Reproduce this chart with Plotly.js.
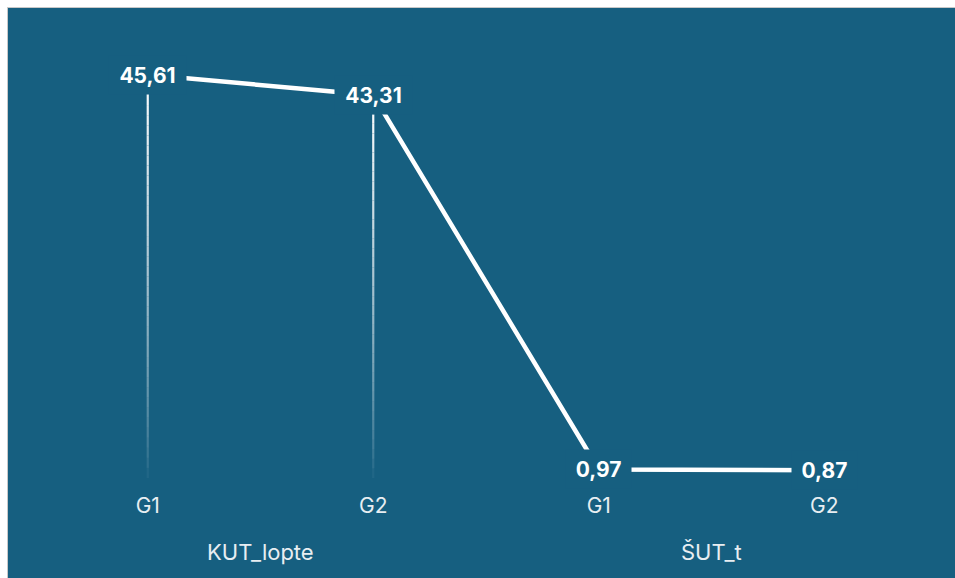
<!DOCTYPE html>
<html>
<head>
<meta charset="utf-8">
<script src="https://cdn.plot.ly/plotly-3.0.1.min.js"></script>
<style>
  html, body { margin: 0; padding: 0; background: #ffffff; width: 955px; height: 578px; overflow: hidden; }
  #frame { position: absolute; left: 7px; top: 7px; border-left: 1px solid #c8c8c8; border-top: 1px solid #c8c8c8; width: 947px; height: 570px; }
  #chart { width: 947px; height: 570px; }
</style>
</head>
<body>
<div id="frame"><div id="chart"></div></div>
<script>
// ---- data ----
const groups = ["KUT_lopte", "KUT_lopte", "ŠUT_t", "ŠUT_t"];
const subLabels = ["G1", "G2", "G1", "G2"];
const values = [45.61, 43.31, 0.97, 0.87];

// ---- styling ----
const BG = "#165f80";
const FONT = "Inter, 'Open Sans', sans-serif";
const xIdx = values.map((_, i) => i);

const traces = [];
// gradient drop lines (white at the point, fading to transparent at zero)
const N = 40;
values.forEach((v, i) => {
  for (let k = 0; k < N; k++) {
    const a = Math.pow((k + 0.5) / N, 0.7);
    traces.push({
      type: "scatter", mode: "lines",
      x: [i, i], y: [v * k / N, v * (k + 1) / N],
      line: { color: "rgba(255,255,255," + a.toFixed(3) + ")", width: 2.2 },
      hoverinfo: "skip", showlegend: false
    });
  }
});
// main line
traces.push({
  type: "scatter", mode: "lines",
  x: xIdx, y: values,
  line: { color: "#ffffff", width: 4.5 },
  showlegend: false
});

const fmt = v => v.toFixed(2).replace(".", ",");
const annotations = values.map((v, i) => ({
  x: i, y: v, xref: "x", yref: "y",
  text: "<b>" + fmt(v) + "</b>",
  showarrow: false,
  font: { family: FONT, size: 21, color: "#ffffff" },
  bgcolor: BG, width: 12 * fmt(v).length + 15, height: 36,
  xanchor: "center", yanchor: "middle"
}));
// group labels centered under their categories
const uniqueGroups = [...new Set(groups)];
uniqueGroups.forEach(g => {
  const idx = xIdx.filter(i => groups[i] === g);
  const mid = idx.reduce((s, i) => s + i, 0) / idx.length;
  annotations.push({
    x: mid, y: 0, xref: "x", yref: "paper",
    text: g, showarrow: false,
    font: { family: FONT, size: 22, color: "#e8eef2" },
    xanchor: "center", yanchor: "middle", yshift: -74
  });
});

const layout = {
  width: 947, height: 570,
  paper_bgcolor: BG, plot_bgcolor: BG,
  margin: { l: 27.3, r: 18.4, t: 27.5, b: 100 },
  showlegend: false,
  xaxis: {
    range: [-0.5, 3.5],
    tickmode: "array", tickvals: xIdx, ticktext: subLabels,
    showgrid: false, zeroline: false, showline: false, ticks: "",
    tickfont: { family: FONT, size: 21, color: "#e8eef2" },
    ticklabelstandoff: 13,
    fixedrange: true
  },
  yaxis: {
    range: [0, 50], visible: false, showgrid: false, zeroline: false, fixedrange: true
  },
  annotations: annotations
};

Plotly.newPlot("chart", traces, layout, { displayModeBar: false, staticPlot: true });
</script>
</body>
</html>
